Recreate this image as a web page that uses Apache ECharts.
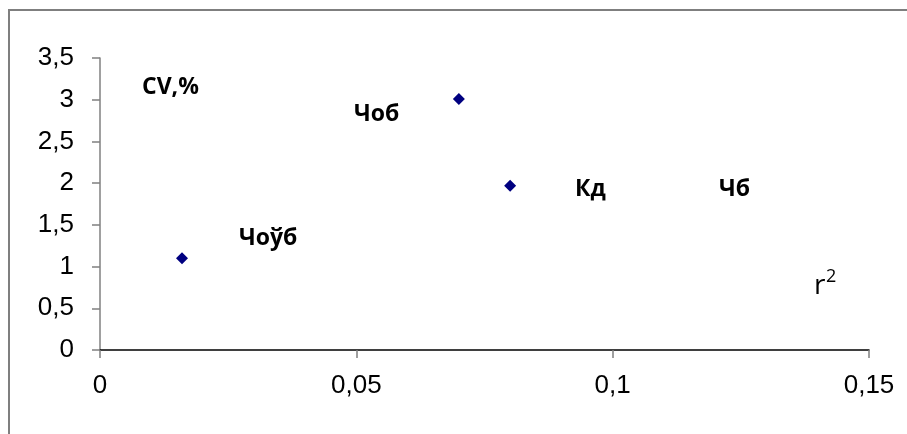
<!DOCTYPE html>
<html>
<head>
<meta charset="utf-8">
<script src="https://cdn.jsdelivr.net/npm/echarts@6/dist/echarts.min.js"></script>
<style>html,body{margin:0;padding:0;background:#fff}#c{width:907px;height:434px}</style>
</head>
<body>
<div id="c"></div>
<script>
// Data
const xValues = [0.016, 0.070, 0.080];
const yValues = [1.10, 3.01, 1.97];
const xTicks = [0, 0.05, 0.1, 0.15];
const yTicks = [0, 0.5, 1, 1.5, 2, 2.5, 3, 3.5];
const annotations = ['CV,%', 'Чоб', 'Кд', 'Чб', 'Чоўб'];
const axisNote = 'r';

const chart = echarts.init(document.getElementById('c'), null, {renderer: 'canvas'});
const fmt = v => String(v).replace('.', ',');
const boldFont = '"Open Sans", "Noto Sans", sans-serif';
const annPos = [[142, 87], [354, 114], [575, 189], [719, 189], [239, 238]];

const graphics = [
  {type: 'rect', shape: {x: 9, y: 10, width: 920, height: 440}, style: {fill: null, stroke: '#7f7f7f', lineWidth: 2}, silent: true}
];
annotations.forEach((t, i) => {
  graphics.push({type: 'text', x: annPos[i][0], y: annPos[i][1],
    style: {text: t, fontSize: 23, fontWeight: 'bold', fontFamily: boldFont, fill: '#000', verticalAlign: 'middle', align: 'left'}});
});
graphics.push({type: 'text', x: 814, y: 286,
  style: {text: axisNote, fontSize: 28, fontFamily: '"Open Sans", "Noto Sans", sans-serif', fill: '#000', verticalAlign: 'middle', align: 'left'}});
graphics.push({type: 'text', x: 826, y: 277,
  style: {text: '2', fontSize: 18, fontFamily: '"Open Sans", "Noto Sans", sans-serif', fill: '#000', verticalAlign: 'middle', align: 'left'}});

chart.setOption({
  animation: false,
  backgroundColor: '#fff',
  grid: {left: 100, top: 58, right: 38, bottom: 84, containLabel: false},
  xAxis: {
    type: 'value', min: xTicks[0], max: xTicks[xTicks.length - 1], interval: 0.05,
    axisLine: {show: true, onZero: false, lineStyle: {color: '#000', width: 1.5}},
    axisTick: {show: true, length: 8, lineStyle: {color: '#808080', width: 1.5}},
    axisLabel: {formatter: fmt, fontSize: 26, fontFamily: '"Liberation Sans", Arial, sans-serif', color: '#000', margin: 23},
    splitLine: {show: false}
  },
  yAxis: {
    type: 'value', min: yTicks[0], max: yTicks[yTicks.length - 1], interval: 0.5,
    axisLine: {show: true, onZero: false, lineStyle: {color: '#808080', width: 1.5}},
    axisTick: {show: true, length: 8, lineStyle: {color: '#808080', width: 1.5}},
    axisLabel: {formatter: fmt, fontSize: 26, fontFamily: '"Liberation Sans", Arial, sans-serif', color: '#000', margin: 26},
    splitLine: {show: false}
  },
  series: [{
    type: 'scatter',
    symbol: 'diamond',
    symbolSize: 12,
    itemStyle: {color: '#000080', opacity: 1},
    data: xValues.map((x, i) => [x, yValues[i]])
  }],
  graphic: graphics
});
</script>
</body>
</html>
